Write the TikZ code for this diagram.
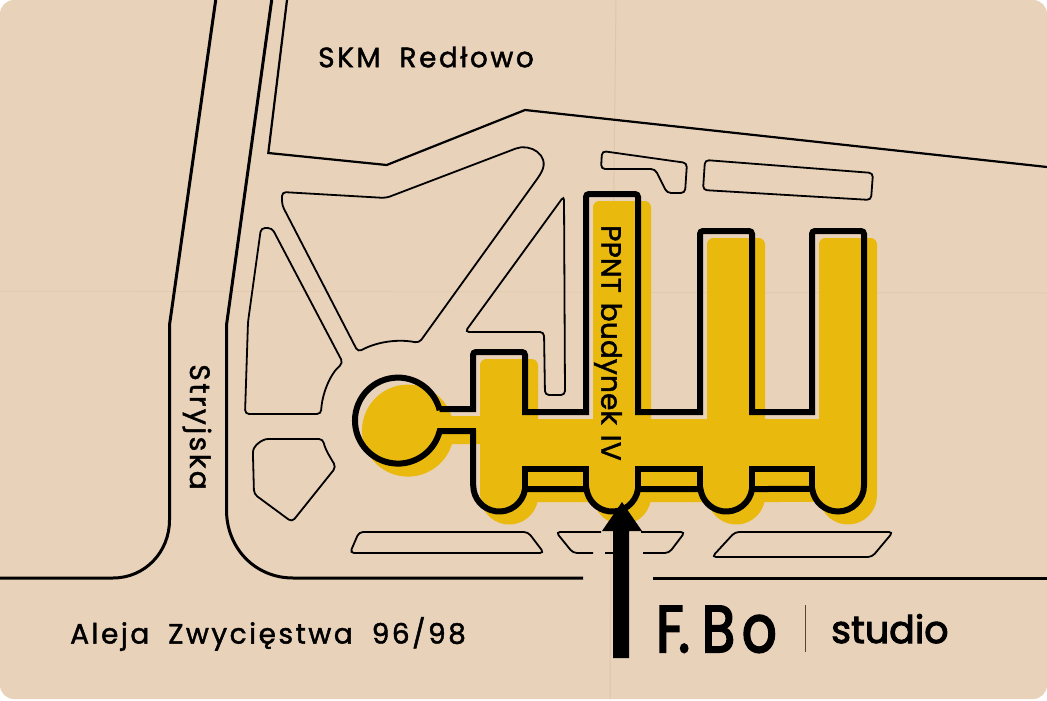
\documentclass[tikz,border=0pt]{standalone}
\usepackage{xcolor}
\usepackage{fontspec}
\newfontfamily\mapfont[LetterSpace=9, WordSpace=1.9, FakeBold=1.6]{Poppins}
\newfontfamily\blockfont[LetterSpace=0.5, WordSpace=1.3, FakeBold=1.6]{Poppins}
\newfontfamily\logofont[FakeBold=3, FakeStretch=0.82]{Poppins}
\newfontfamily\studiofont[FakeBold=2.6]{Poppins}
\definecolor{paper}{HTML}{E9D2BA}
\definecolor{crease}{HTML}{DFC6AB}
\definecolor{ochre}{HTML}{E9B90E}
\definecolor{rule}{HTML}{5A4630}
\tikzset{
  road/.style={draw=black, line width=3pt},
  plot/.style={draw=black, line width=1.8pt, rounded corners=4pt},
  wall/.style={draw=black, line width=6pt, line join=miter},
  label/.style={font=\mapfont\fontsize{28}{30}\selectfont, inner sep=0pt, text=black}
}
% outline of the building, used for the shadow and for the walls
\newcommand{\buildingoutline}{
  (439.7,409) -- (473,409) [rounded corners=3pt] -- (473,352) -- (525,352) [sharp corners] -- (525,412)
  -- (586,412) [rounded corners=3pt] -- (586,194) -- (638,194) [sharp corners] -- (638,412)
  -- (700,412) [rounded corners=3pt] -- (700,231) -- (752,231) [sharp corners] -- (752,412)
  -- (812,412) [rounded corners=3pt] -- (812,231) -- (864,231) [sharp corners] -- (864,485.5)
  arc[start angle=0, end angle=-172.3, radius=26pt] -- (752,489)
  arc[start angle=-7.7, end angle=-172.3, radius=26pt] -- (638,489)
  arc[start angle=-7.7, end angle=-172.3, radius=26pt] -- (525,489)
  arc[start angle=-7.7, end angle=-180, radius=26pt] -- (473,431) -- (439.7,431)
  arc[start angle=-14, end angle=-180, radius=43pt]
  arc[start angle=180, end angle=14, radius=43pt]
}
\begin{document}
\begin{tikzpicture}[x=1pt, y=-1pt]
  \useasboundingbox (0,0) rectangle (1047,701);
  % Paper
  \fill[white] (0,0) rectangle (1047,701);
  \fill[paper, rounded corners=14pt] (0,0) rectangle (1047,699);
  \draw[crease, line width=1pt] (616,0) -- (612,350) -- (610,699);
  \draw[crease, line width=.5pt] (0,291) -- (1047,293);

  % Shadow
  \begin{scope}[shift={(10pt,-10pt)}]
    \path[fill=ochre, draw=ochre, line width=6pt, line join=round] \buildingoutline;
  \end{scope}

  % Streets
  \draw[road] (215.7,0) -- (169.5,325) -- (169.5,520) .. controls (169.5,552) and (145,578) .. (113,578) -- (0,578);
  \draw[road] (271.7,0) -- (226.5,325) -- (226.5,510) .. controls (226.5,548) and (255,578) .. (293,578) -- (583,578);
  \draw[road] (653,578) -- (1047,578);
  \draw[black, line width=2.2pt] (287,0) -- (268.3,153) -- (386.7,165) -- (525,110) -- (1047,167);

  % Plots
  \draw[plot] (602,151) -- (687,163) -- (685,193) -- (667,193) -- (655,169) -- (601,169) -- cycle;
  \draw[plot] (705,160) -- (873,173) -- (871,200) -- (703,190) -- cycle;
  \draw[plot] (282,192) -- (386,198) -- (512,150) .. controls (530,143) and (550,155) .. (540,175) -- (419,343) .. controls (400,339) and (378,341) .. (358,352) -- (282,205) -- cycle;
  \draw[plot] (272,228) -- (343,363) .. controls (330,374) and (322,394) .. (321,414) -- (245,414) -- (248,322) -- (261,228) -- cycle;
  \draw[plot] (254,494) -- (253,456) .. controls (253,446) and (262,439) .. (272,439) -- (323,439) .. controls (325,449) and (330,457) .. (336,467) -- (292,522) -- cycle;
  \draw[plot] (564,196) -- (565,395) -- (545,395) -- (544,332) -- (465,332) -- cycle;
  \draw[plot] (359,532) -- (528,532) -- (544,553) -- (350,553) -- cycle;
  \draw[plot] (735,532) -- (893,532) -- (872,557) -- (712,557) -- cycle;
  \draw[plot] (601,532) -- (556,532) -- (573,553) -- (593,553);
  \draw[plot] (605,553) -- (613,553);
  \draw[plot] (643,553) -- (669,553) -- (685,532) -- (641,532);

  % Building
  \path[wall] \buildingoutline;
  \draw[wall] (525,489) -- (525,469) -- (586,469) -- (586,489);
  \draw[wall] (638,489) -- (638,469) -- (700,469) -- (700,489);
  \draw[wall] (752,489) -- (752,469) -- (812,469) -- (812,489);

  % Arrow
  \fill[black] (613,658) -- (613,531) -- (602,531) -- (622,502) -- (642,531) -- (629,531) -- (629,658) -- cycle;

  % Labels
  \node[label] (station) at (426,57) {SKM Redłowo};
  \node[label, rotate=-90] (street) at (197,427) {Stryjska};
  \node[label, rotate=-90, font=\blockfont\fontsize{28}{30}\selectfont] (block) at (608,343) {PPNT budynek IV};
  \node[label, anchor=west] (address) at (70,634) {Aleja Zwycięstwa 96/98};
  \node[inner sep=0pt, anchor=base west, font=\logofont\fontsize{66}{66}\selectfont] (logo) at (656,652) {F\kern-5pt.\kern12pt B\kern7pt o};
  \node[inner sep=0pt, anchor=base west, font=\studiofont\fontsize{38}{38}\selectfont] (studio) at (831,643) {studio};
  \draw[rule, line width=1pt] (805,605) -- (805,652);
\end{tikzpicture}
\end{document}
